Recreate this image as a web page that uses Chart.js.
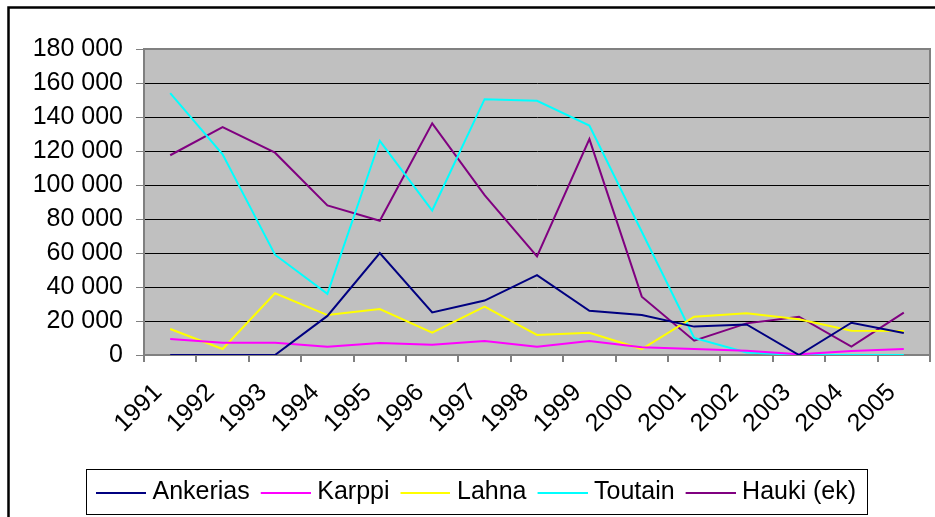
<!DOCTYPE html>
<html>
<head>
<meta charset="utf-8">
<script src="https://cdn.jsdelivr.net/npm/chart.js@4/dist/chart.umd.min.js"></script>
<style>
html,body{margin:0;padding:0;background:#fff;}
#wrap{position:relative;width:935px;height:517px;}
</style>
</head>
<body>
<div id="wrap"><canvas id="c" width="935" height="517"></canvas></div>
<script>
const years = ['1991','1992','1993','1994','1995','1996','1997','1998','1999','2000','2001','2002','2003','2004','2005'];
const ankerias = [0, 0, 0, 23000, 60000, 25000, 32000, 47000, 26000, 23500, 16700, 18000, 0, 19000, 13000];
const karppi   = [9400, 7200, 7200, 4900, 7000, 6100, 8200, 4900, 8200, 4500, 3500, 2500, 400, 2300, 3500];
const lahna    = [15300, 3500, 36300, 23500, 27000, 13100, 28400, 11800, 13100, 3500, 22500, 24500, 21000, 14300, 14100];
const toutain  = [154000, 118000, 59000, 36000, 126000, 85000, 150500, 149500, 135000, 72500, 10000, 1500, 0, 0, 0];
const hauki    = [117500, 134000, 119000, 88000, 79000, 136300, 94000, 58000, 127000, 34300, 8400, 18600, 22500, 4900, 24900];
const seriesNames = ['Ankerias','Karppi','Lahna','Toutain','Hauki (ek)'];
const seriesColors = ['#000080','#FF00FF','#FFFF00','#00FFFF','#800080'];
const yTickValues = [0,20000,40000,60000,80000,100000,120000,140000,160000,180000];

const FONT = '"Liberation Sans", Arial, sans-serif';
Chart.defaults.font.family = FONT;
Chart.defaults.color = '#000';

// legend line swatches: 50px line, placed so it starts at the item's left edge
function swatch(color) {
  const c = document.createElement('canvas');
  c.width = 56; c.height = 2;
  const x = c.getContext('2d');
  x.fillStyle = color;
  x.fillRect(6, 0, 50, 2);
  return c;
}
const swatches = seriesColors.map(swatch);

const framePlugin = {
  id: 'frame',
  beforeDraw(chart) {
    const ctx = chart.ctx, a = chart.chartArea;
    ctx.save();
    ctx.fillStyle = '#fff';
    ctx.fillRect(0, 0, chart.width, chart.height);
    ctx.fillStyle = '#C0C0C0';
    ctx.fillRect(a.left, a.top, a.right - a.left, a.bottom - a.top);
    ctx.strokeStyle = '#000';
    ctx.lineWidth = 2.5;
    ctx.beginPath();
    ctx.moveTo(8.5, chart.height + 5);
    ctx.lineTo(8.5, 7.5);
    ctx.lineTo(chart.width + 5, 7.5);
    ctx.stroke();
    ctx.restore();
  },
  beforeDatasetsDraw(chart) {
    const ctx = chart.ctx, a = chart.chartArea;
    ctx.save();
    ctx.strokeStyle = '#808080';
    ctx.lineWidth = 2;
    ctx.beginPath();
    ctx.moveTo(a.left, a.top);
    ctx.lineTo(a.right, a.top);
    ctx.lineTo(a.right, a.bottom);
    ctx.stroke();
    ctx.restore();
  },
  afterDraw(chart) {
    const lg = chart.legend;
    if (!lg || !lg.legendHitBoxes || !lg.legendHitBoxes.length) return;
    const hb = lg.legendHitBoxes;
    const first = hb[0], last = hb[hb.length - 1];
    const left = first.left - 10;
    const right = last.left + last.width + 11;
    const ctx = chart.ctx;
    ctx.save();
    ctx.strokeStyle = '#000';
    ctx.lineWidth = 1;
    ctx.strokeRect(Math.round(left) + 0.5, Math.round(lg.top) + 0.5, Math.round(right - left), Math.round(lg.bottom - lg.top) - 1);
    ctx.restore();
  }
};

const mk = (i, data) => ({
  label: seriesNames[i], data,
  borderColor: seriesColors[i], backgroundColor: seriesColors[i],
  borderWidth: 2, pointRadius: 0, pointHoverRadius: 0,
  tension: 0, fill: false
});

new Chart(document.getElementById('c'), {
  type: 'line',
  data: {
    labels: years,
    datasets: [mk(0, ankerias), mk(1, karppi), mk(2, lahna), mk(3, toutain), mk(4, hauki)]
  },
  options: {
    responsive: false,
    animation: false,
    devicePixelRatio: 1,
    layout: { padding: { top: 49, right: 5, bottom: 2, left: 22 } },
    plugins: {
      tooltip: { enabled: false },
      legend: {
        position: 'bottom',
        labels: {
          usePointStyle: true,
          pointStyleWidth: 44,
          boxHeight: 25,
          padding: 11,
          color: '#000',
          font: { size: 25, family: FONT },
          generateLabels(chart) {
            const items = Chart.defaults.plugins.legend.labels.generateLabels(chart);
            items.forEach((it) => { it.pointStyle = swatches[it.datasetIndex]; });
            return items;
          }
        }
      }
    },
    scales: {
      x: {
        offset: true,
        grid: { offset: true, drawOnChartArea: false, drawTicks: true, tickLength: 7, color: '#808080', lineWidth: 2 },
        border: { color: '#808080', width: 2 },
        ticks: { autoSkip: false, minRotation: 45, maxRotation: 45, color: '#000', font: { size: 25, family: FONT }, padding: 16, labelOffset: -12 },
        afterFit(s) { s.height = 114; s.paddingLeft = 0; s.paddingRight = 0; }
      },
      y: {
        min: 0, max: 180000,
        afterBuildTicks(s) { s.ticks = yTickValues.map(v => ({ value: v })); },
        ticks: {
          color: '#000',
          font: { size: 25, family: FONT },
          padding: 13,
          callback: v => String(v).replace(/\B(?=(\d{3})+(?!\d))/g, ' ')
        },
        grid: {
          color: c => (c.tick && c.tick.value === 180000) ? 'rgba(0,0,0,0)' : '#000',
          tickColor: '#808080',
          tickLength: 8,
          lineWidth: 1
        },
        border: { color: '#808080', width: 2 },
        afterFit(s) { s.width = 122; s.paddingTop = 0; s.paddingBottom = 0; }
      }
    }
  },
  plugins: [framePlugin]
});
</script>
</body>
</html>
